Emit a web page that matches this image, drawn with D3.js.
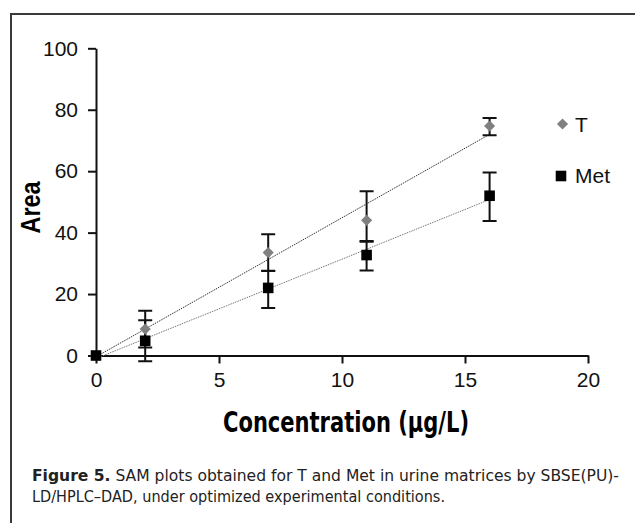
<!DOCTYPE html>
<html lang="en">
<head>
    <meta charset="UTF-8">
    <title>SAM plots T and Met</title>
    <script src="https://d3js.org/d3.v7.min.js"></script>
    <style>
        body { margin: 0; background: #fff; }
        .tick text { font-family: 'Liberation Sans', Arial, sans-serif; font-size: 21px; fill: #111; }
        .trend { fill: none; stroke-width: 1; stroke-dasharray: 1.5,1; }
        .trend.t { stroke: #333; }
        .trend.met { stroke: #777; }
        .err { stroke: #111; stroke-width: 2; fill: none; }
    </style>
</head>
<body>
<svg id="chart" width="635" height="523"></svg>

<script>
    // concentración añadida (µg/L)
    const concentration = [0, 2, 7, 11, 16];

    // serie T (rombo gris)
    const areaT = [0, 8.6, 33.5, 44, 74.7];
    const errTUp = [0, 6, 6, 9.5, 2.6];
    const errTDown = [0, 6, 6, 7, 3];

    // serie Met (cuadrado negro)
    const areaMet = [0, 4.8, 22, 32.7, 52];
    const errMetUp = [0, 6.7, 5.6, 4.6, 7.6];
    const errMetDown = [0, 6.7, 6.5, 5, 8.2];

    const xTicks = [0, 5, 10, 15, 20];
    const yTicks = [0, 20, 40, 60, 80, 100];

    const series = [
        { name: "T", values: areaT, up: errTUp, down: errTDown, cls: "t" },
        { name: "Met", values: areaMet, up: errMetUp, down: errMetDown, cls: "met" }
    ];

    const svg = d3.select("#chart");

    // marco de la figura
    svg.append("path")
        .attr("d", "M11,523V14H635")
        .attr("fill", "none")
        .attr("stroke", "#3a3a3a")
        .attr("stroke-width", 2);

    const xScale = d3.scaleLinear().domain([0, 20]).range([96, 588]);
    const yScale = d3.scaleLinear().domain([0, 100]).range([355.5, 48.3]);

    // ejes
    const xAxis = svg.append("g")
        .attr("transform", "translate(0,355.5)")
        .call(d3.axisBottom(xScale).tickValues(xTicks).tickSize(8).tickSizeOuter(0).tickPadding(9));

    const yAxis = svg.append("g")
        .attr("transform", "translate(96,0)")
        .call(d3.axisLeft(yScale).tickValues(yTicks).tickSize(8).tickSizeOuter(0).tickPadding(10));

    [xAxis, yAxis].forEach(ax => {
        ax.attr("font-family", null);
        ax.select(".domain").attr("stroke", "#111").attr("stroke-width", 2);
        ax.selectAll(".tick line").attr("stroke", "#111").attr("stroke-width", 2);
    });

    // rectas de regresión (como la línea de tendencia de Excel)
    function fit(xs, ys) {
        const mx = d3.mean(xs), my = d3.mean(ys);
        const b = d3.sum(xs, (x, i) => (x - mx) * (ys[i] - my)) / d3.sum(xs, x => (x - mx) ** 2);
        return { b: b, a: my - b * mx };
    }

    const line = d3.line().x(d => xScale(d[0])).y(d => yScale(d[1]));

    series.forEach(s => {
        const f = fit(concentration, s.values);
        const x0 = d3.min(concentration), x1 = d3.max(concentration);
        svg.append("path")
            .attr("class", "trend " + s.cls)
            .attr("d", line([[x0, f.a + f.b * x0], [x1, f.a + f.b * x1]]));
    });

    // barras de error
    series.forEach(s => {
        const g = svg.append("g").attr("class", "err");
        concentration.forEach((c, i) => {
            if (!s.up[i] && !s.down[i]) return;
            const x = xScale(c);
            const yTop = yScale(s.values[i] + s.up[i]);
            const yBot = yScale(s.values[i] - s.down[i]);
            g.append("path")
                .attr("d", `M${x},${yTop}V${yBot}M${x - 7},${yTop}H${x + 7}M${x - 7},${yBot}H${x + 7}`);
        });
    });

    // marcadores
    const diamond = d3.symbol(d3.symbolSquare, 62);
    const square = d3.symbol(d3.symbolSquare, 112);

    svg.append("g").selectAll("path")
        .data(concentration.map((c, i) => [c, areaT[i]]))
        .join("path")
        .attr("d", diamond)
        .attr("fill", "#808080")
        .attr("transform", d => `translate(${xScale(d[0])},${yScale(d[1])}) rotate(45)`);

    svg.append("g").selectAll("path")
        .data(concentration.map((c, i) => [c, areaMet[i]]))
        .join("path")
        .attr("d", square)
        .attr("fill", "#000")
        .attr("transform", d => `translate(${xScale(d[0])},${yScale(d[1])})`);

    // leyenda
    const legend = svg.append("g").style("font-family", "'Liberation Sans', Arial, sans-serif").attr("font-size", 21).attr("fill", "#111");
    legend.append("path").attr("d", diamond).attr("fill", "#808080")
        .attr("transform", "translate(562.5,124) rotate(45)");
    legend.append("text").attr("x", 575).attr("y", 131.5).text("T");
    legend.append("path").attr("d", square).attr("fill", "#000")
        .attr("transform", "translate(561,176)");
    legend.append("text").attr("x", 575).attr("y", 183).text("Met");

    // títulos de ejes
    svg.append("text")
        .attr("transform", "translate(40,207.5) rotate(-90)")
        .attr("text-anchor", "middle")
        .style("font-family", "'Liberation Sans', Arial, sans-serif")
        .attr("font-weight", "bold")
        .attr("font-size", 27)
        .attr("textLength", 52)
        .attr("lengthAdjust", "spacingAndGlyphs")
        .text("Area");

    svg.append("text")
        .attr("x", 223).attr("y", 432)
        .style("font-family", "'Liberation Sans Narrow', 'DejaVu Sans Condensed', sans-serif")
        .attr("font-weight", "bold")
        .attr("font-size", 28)
        .attr("textLength", 246)
        .attr("lengthAdjust", "spacingAndGlyphs")
        .text("Concentration (µg/L)");

    // pie de figura
    const cap = svg.append("g")
        .style("font-family", "'Liberation Sans Narrow', 'DejaVu Sans Condensed', sans-serif")
        .attr("font-size", 16.5)
        .attr("fill", "#222");
    const l1 = cap.append("text").attr("x", 32).attr("y", 481)
        .attr("textLength", 587).attr("lengthAdjust", "spacingAndGlyphs");
    l1.append("tspan").attr("font-weight", "bold").text("Figure 5.");
    l1.append("tspan").text(" SAM plots obtained for T and Met in urine matrices by SBSE(PU)-");
    cap.append("text").attr("x", 32).attr("y", 502)
        .attr("textLength", 413).attr("lengthAdjust", "spacingAndGlyphs")
        .text("LD/HPLC–DAD, under optimized experimental conditions.");
</script>
</body>
</html>
